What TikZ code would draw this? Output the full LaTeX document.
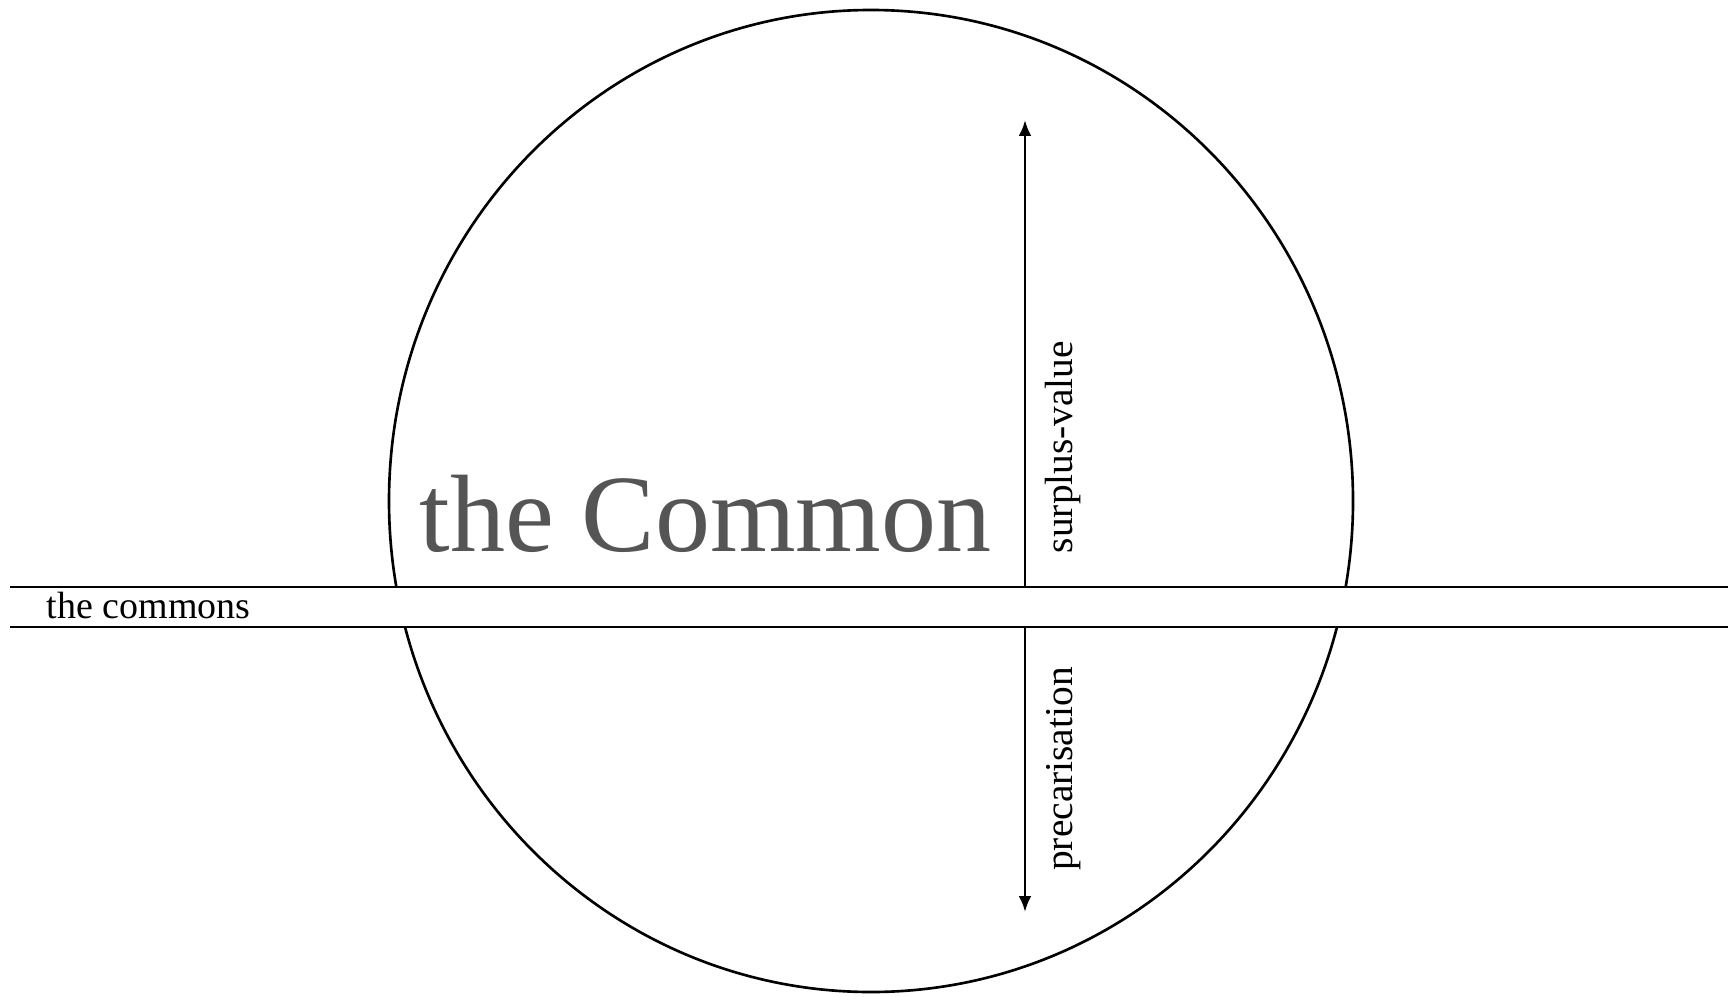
\documentclass[tikz,border=0pt]{standalone}
\usepackage{fontspec}
\setmainfont{Liberation Serif}
\usepackage{tikz}
\usetikzlibrary{arrows.meta}
\definecolor{commongray}{HTML}{555555}
\tikzset{
  outline/.style={line width=0.75pt},
  flow/.style={line width=0.75pt,-{Latex[length=4.5pt,width=3.6pt]}},
  sidelabel/.style={rotate=90,anchor=base,inner sep=0pt,font=\fontsize{11.2}{13}\selectfont},
}

\begin{document}
\begin{tikzpicture}[x=0.01cm,y=0.01cm]
  \useasboundingbox (0,0) rectangle (1728,996);
  % the circle, cut by the band of the commons
  \draw[outline] (871,495) ellipse [x radius=482,y radius=491];
  \fill[white] (10,369) rectangle (1728,409);
  \draw[outline] (10,409) -- (1728,409);
  \draw[outline] (10,369) -- (1728,369);
  \node[anchor=base west,inner sep=0pt,text=commongray,font=\fontsize{31.3}{36}\selectfont] (common) at (419,445) {the Common};
  \node[anchor=base west,inner sep=0pt,font=\fontsize{10.8}{13}\selectfont] (commons) at (46,378) {the commons};
  \node[sidelabel] (surplus) at (1072,549) {surplus-value};
  \node[sidelabel] (precar) at (1072,227) {precarisation};
  \coordinate (svfoot) at (1025,409);
  \coordinate (svtip) at (1025,876);
  \coordinate (prfoot) at (1025,369);
  \coordinate (prtip) at (1025,84);
  \draw[flow] (svfoot) -- (svtip);
  \draw[flow] (prfoot) -- (prtip);
\end{tikzpicture}
\end{document}
